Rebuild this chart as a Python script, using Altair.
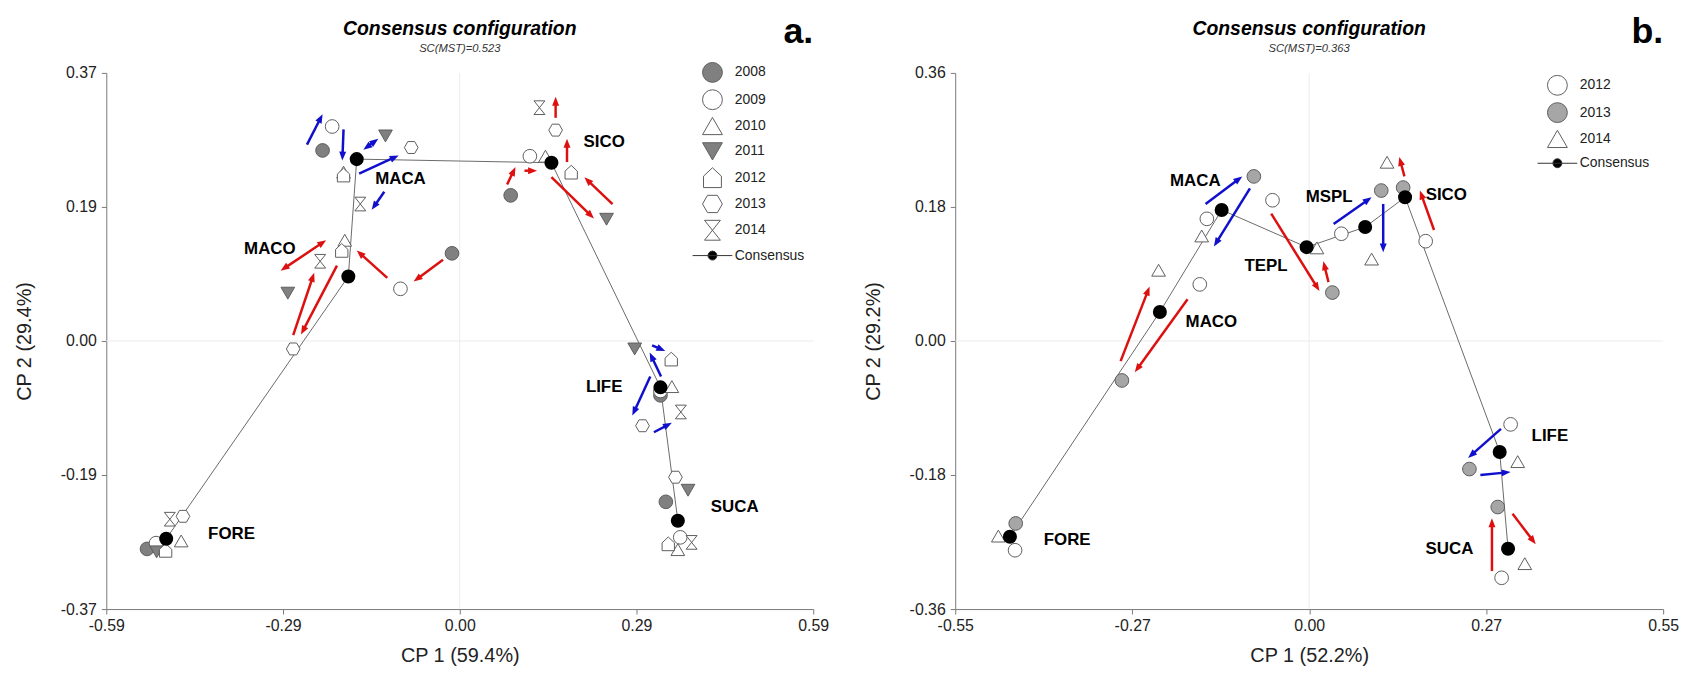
import math
import altair as alt
import pandas as pd

FONT = "Liberation Sans"
RED = "#dd1010"
BLUE = "#1010cc"

# ---------------- Panel a ----------------
A_TITLE = "Consensus configuration"
A_SUBTITLE = "SC(MST)=0.523"
A_TAG = "a."
A_XTITLE = "CP 1 (59.4%)"
A_YTITLE = "CP 2 (29.4%)"
A_XDOMAIN = [-0.59, 0.59]
A_YDOMAIN = [-0.37, 0.37]
A_XTICKS = [-0.59, -0.295, 0.0, 0.295, 0.59]
A_XLABELS = ["-0.59", "-0.29", "0.00", "0.29", "0.59"]
A_YTICKS = [-0.37, -0.185, 0.0, 0.185, 0.37]
A_YLABELS = ["-0.37", "-0.19", "0.00", "0.19", "0.37"]

A_SITES = ["FORE", "MACO", "MACA", "SICO", "LIFE", "SUCA"]
A_CONS_X = [-0.490, -0.186, -0.172, 0.153, 0.335, 0.364]
A_CONS_Y = [-0.273, 0.089, 0.251, 0.246, -0.064, -0.248]
A_LABEL_X = [-0.381, -0.317, -0.099, 0.241, 0.241, 0.459]
A_LABEL_Y = [-0.266, 0.127, 0.223, 0.274, -0.063, -0.229]

A_YEARS = ["2008", "2009", "2010", "2011", "2012", "2013", "2014"]
A_2008_X = [-0.522, -0.013, -0.229, 0.085, 0.335, 0.344]
A_2008_Y = [-0.287, 0.121, 0.263, 0.201, -0.075, -0.222]
A_2009_X = [-0.507, -0.099, -0.213, 0.117, 0.335, 0.368]
A_2009_Y = [-0.279, 0.072, 0.296, 0.255, -0.069, -0.271]
A_2010_X = [-0.465, -0.192, -0.194, 0.143, 0.354, 0.364]
A_2010_Y = [-0.276, 0.139, 0.233, 0.255, -0.063, -0.288]
A_2011_X = [-0.506, -0.287, -0.124, 0.245, 0.292, 0.381]
A_2011_Y = [-0.291, 0.066, 0.283, 0.168, -0.011, -0.206]
A_2012_X = [-0.491, -0.197, -0.194, 0.186, 0.353, 0.348]
A_2012_Y = [-0.289, 0.125, 0.229, 0.233, -0.025, -0.280]
A_2013_X = [-0.462, -0.278, -0.081, 0.160, 0.305, 0.360]
A_2013_Y = [-0.242, -0.011, 0.267, 0.291, -0.117, -0.188]
A_2014_X = [-0.484, -0.233, -0.166, 0.133, 0.369, 0.387]
A_2014_Y = [-0.246, 0.110, 0.189, 0.322, -0.098, -0.278]

A_ARR_X0 = [-0.255, -0.194, -0.161, -0.168, -0.126, -0.299, -0.028, -0.121, -0.278, -0.205,
            0.160, 0.179, 0.079, 0.108, 0.153, 0.255, 0.321, 0.336, 0.318, 0.324]
A_ARR_Y0 = [0.271, 0.292, 0.264, 0.231, 0.206, 0.097, 0.112, 0.087, 0.008, 0.104,
            0.308, 0.247, 0.216, 0.235, 0.226, 0.189, -0.006, -0.049, -0.049, -0.126]
A_ARR_X1 = [-0.229, -0.196, -0.136, -0.102, -0.147, -0.223, -0.077, -0.172, -0.243, -0.265,
            0.160, 0.179, 0.093, 0.129, 0.224, 0.208, 0.343, 0.317, 0.288, 0.354]
A_ARR_Y1 = [0.313, 0.249, 0.279, 0.256, 0.181, 0.139, 0.082, 0.125, 0.094, 0.009,
            0.337, 0.279, 0.240, 0.235, 0.169, 0.226, -0.014, -0.016, -0.103, -0.113]
A_ARR_GROUP = ["b", "b", "b", "b", "b", "r", "r", "r", "r", "r",
               "r", "r", "r", "r", "r", "r", "b", "b", "b", "b"]
A_ARR_BOTH = [0, 0, 1, 0, 0, 1, 0, 0, 0, 0, 0, 0, 0, 0, 0, 0, 0, 0, 0, 0]

# ---------------- Panel b ----------------
B_TITLE = "Consensus configuration"
B_SUBTITLE = "SC(MST)=0.363"
B_TAG = "b."
B_XTITLE = "CP 1 (52.2%)"
B_YTITLE = "CP 2 (29.2%)"
B_XDOMAIN = [-0.55, 0.55]
B_YDOMAIN = [-0.36, 0.36]
B_XTICKS = [-0.55, -0.275, 0.0, 0.275, 0.55]
B_XLABELS = ["-0.55", "-0.27", "0.00", "0.27", "0.55"]
B_YTICKS = [-0.36, -0.18, 0.0, 0.18, 0.36]
B_YLABELS = ["-0.36", "-0.18", "0.00", "0.18", "0.36"]

B_SITES = ["FORE", "MACO", "MACA", "TEPL", "MSPL", "SICO", "LIFE", "SUCA"]
B_CONS_X = [-0.465, -0.232, -0.136, -0.004, 0.087, 0.149, 0.296, 0.309]
B_CONS_Y = [-0.263, 0.039, 0.176, 0.126, 0.153, 0.193, -0.149, -0.279]
B_LABEL_X = [-0.376, -0.152, -0.177, -0.067, 0.031, 0.213, 0.374, 0.218]
B_LABEL_Y = [-0.267, 0.025, 0.215, 0.100, 0.193, 0.196, -0.128, -0.279]

B_YEARS = ["2012", "2013", "2014"]
B_2012_X = [-0.457, -0.170, -0.159, -0.057, 0.050, 0.181, 0.313, 0.299]
B_2012_Y = [-0.281, 0.076, 0.164, 0.189, 0.144, 0.134, -0.112, -0.318]
B_2013_X = [-0.456, -0.291, -0.086, 0.036, 0.112, 0.146, 0.249, 0.293]
B_2013_Y = [-0.245, -0.053, 0.221, 0.065, 0.202, 0.206, -0.172, -0.223]
B_2014_X = [-0.483, -0.234, -0.167, 0.012, 0.097, 0.121, 0.324, 0.335]
B_2014_Y = [-0.262, 0.095, 0.141, 0.125, 0.110, 0.240, -0.162, -0.299]

B_ARR_X0 = [-0.161, -0.092, -0.293, -0.189, -0.059, 0.030, 0.038, 0.115, 0.148, 0.194,
            0.298, 0.266, 0.316, 0.284]
B_ARR_Y0 = [0.184, 0.205, -0.027, 0.056, 0.171, 0.079, 0.157, 0.184, 0.221, 0.149,
            -0.118, -0.180, -0.232, -0.309]
B_ARR_X1 = [-0.104, -0.148, -0.248, -0.271, 0.016, 0.022, 0.097, 0.115, 0.140, 0.172,
            0.247, 0.313, 0.352, 0.284]
B_ARR_Y1 = [0.221, 0.127, 0.073, -0.042, 0.067, 0.107, 0.193, 0.119, 0.247, 0.202,
            -0.157, -0.176, -0.273, -0.238]
B_ARR_GROUP = ["b", "b", "r", "r", "r", "r", "b", "b", "r", "r", "b", "b", "r", "r"]
B_ARR_BOTH = [0] * 14

# ---------------- shapes ----------------
HOUSE = "M-0.9,1L0.9,1L0.9,-0.15L0,-1L-0.9,-0.15Z"
HEXAGON = "M-1,0L-0.5,-0.87L0.5,-0.87L1,0L0.5,0.87L-0.5,0.87Z"
HOURGLASS = "M-0.8,-1L0.8,-1L-0.8,1L0.8,1Z"
CONS_SYMBOL = "M-2,0H2M0.45,0A0.45,0.45,0,1,1,-0.45,0A0.45,0.45,0,1,1,0.45,0Z"
HEAD = "M0,0L-0.7,1.8L0.7,1.8Z"


def label_expr(ticks, labels):
    return ("[" + ",".join("'%s'" % l for l in labels) + "][indexof(["
            + ",".join(repr(float(v)) for v in ticks) + "], datum.value)]")


def build_panel(xdom, ydom, xticks, xlabels, yticks, ylabels, xtitle, ytitle,
                sites, cons_x, cons_y, lab_x, lab_y, years, year_xs, year_ys,
                shape_range, fill_range, stroke_range,
                ax0, ay0, ax1, ay1, agroup, aboth, title, subtitle, tag,
                width, height, legend_x, legend_y):
    sx = width / (xdom[1] - xdom[0])
    sy = height / (ydom[1] - ydom[0])
    xs = alt.Scale(domain=xdom, nice=False, zero=False)
    ys = alt.Scale(domain=ydom, nice=False, zero=False)
    common = dict(domainColor="#7a7a7a", tickColor="#7a7a7a", tickSize=5, grid=False,
                  labelFont=FONT, titleFont=FONT, labelFontSize=16, titleFontSize=20,
                  titleFontWeight="normal", labelColor="#222222", titleColor="#222222",
                  labelFlush=False, labelOverlap=False)
    xaxis = alt.Axis(values=xticks, labelExpr=label_expr(xticks, xlabels), title=xtitle,
                     labelPadding=4, titlePadding=12, **common)
    yaxis = alt.Axis(values=yticks, labelExpr=label_expr(yticks, ylabels), title=ytitle,
                     labelPadding=5, titlePadding=26, **common)
    X = alt.X("x:Q", scale=xs, axis=xaxis)
    Y = alt.Y("y:Q", scale=ys, axis=yaxis)
    col = alt.Color("c:N", scale=alt.Scale(domain=["r", "b"], range=[RED, BLUE]), legend=None)

    zx = alt.Chart(pd.DataFrame({"x": [0.0]})).mark_rule(color="#ececec", strokeWidth=1).encode(x=X)
    zy = alt.Chart(pd.DataFrame({"y": [0.0]})).mark_rule(color="#ececec", strokeWidth=1).encode(y=Y)

    cons = pd.DataFrame({"x": cons_x, "y": cons_y, "s": sites, "i": list(range(len(sites)))})
    line = alt.Chart(cons).mark_line(color="#6a6a6a", strokeWidth=1).encode(
        x=X, y=Y, order=alt.Order("i:Q"))

    rows = []
    for yr, xv, yv in zip(years, year_xs, year_ys):
        for a, b in zip(xv, yv):
            rows.append({"x": a, "y": b, "k": yr})
    pts = pd.DataFrame(rows)
    domain = years + ["Consensus"]
    leg = alt.Legend(orient="none", legendX=legend_x, legendY=legend_y, title=None,
                     symbolSize=400, symbolStrokeWidth=1, labelFont=FONT, labelFontSize=14,
                     labelColor="#222222", rowPadding=2.5, labelOffset=12, padding=0,
                     direction="vertical")
    points = alt.Chart(pts).mark_point(filled=True, size=190, opacity=1, strokeWidth=1).encode(
        x=X, y=Y,
        shape=alt.Shape("k:N", scale=alt.Scale(domain=domain, range=shape_range), legend=leg),
        fill=alt.Fill("k:N", scale=alt.Scale(domain=domain, range=fill_range), legend=leg),
        stroke=alt.Stroke("k:N", scale=alt.Scale(domain=domain, range=stroke_range), legend=leg),
    )
    cpts = alt.Chart(cons).mark_point(filled=True, shape="circle", size=200, color="black",
                                      opacity=1).encode(x=X, y=Y)

    # arrows: shorten the shaft a little under the head, compute head angle in screen space
    segs, heads = [], []
    for x0, y0, x1, y1, g, both in zip(ax0, ay0, ax1, ay1, agroup, aboth):
        dxp, dyp = (x1 - x0) * sx, (y1 - y0) * sy
        L = math.hypot(dxp, dyp)
        ux, uy = dxp / L, dyp / L
        ang = math.degrees(math.atan2(ux, uy)) % 360
        cut = 6.0
        ex, ey = x1 - ux * cut / sx, y1 - uy * cut / sy
        bx, by = x0, y0
        heads.append({"x": x1, "y": y1, "ang": ang, "c": g})
        if both:
            bx, by = x0 + ux * cut / sx, y0 + uy * cut / sy
            heads.append({"x": x0, "y": y0, "ang": (ang + 180) % 360, "c": g})
        segs.append({"x": bx, "y": by, "x2": ex, "y2": ey, "c": g})
    shafts = alt.Chart(pd.DataFrame(segs)).mark_rule(strokeWidth=2.5).encode(
        x=X, y=Y, x2="x2:Q", y2="y2:Q", color=col)
    arrowheads = alt.Chart(pd.DataFrame(heads)).mark_point(
        shape=HEAD, filled=True, size=100, opacity=1, strokeWidth=0).encode(
        x=X, y=Y, angle=alt.Angle("ang:Q", scale=None), color=col)

    labs = pd.DataFrame({"x": lab_x, "y": lab_y, "s": sites})
    labels = alt.Chart(labs).mark_text(font=FONT, fontSize=17, fontWeight="bold", color="black",
                                       align="center", baseline="middle").encode(x=X, y=Y, text="s:N")

    xc = (xdom[0] + xdom[1]) / 2
    ttl = alt.Chart(pd.DataFrame({"x": [xc], "y": [ydom[1]], "t": [title]})).mark_text(
        font=FONT, fontSize=19.5, fontWeight="bold", fontStyle="italic", color="black",
        align="center", baseline="alphabetic", dy=-38).encode(x=X, y=Y, text="t:N")
    sub = alt.Chart(pd.DataFrame({"x": [xc], "y": [ydom[1]], "t": [subtitle]})).mark_text(
        font=FONT, fontSize=11.3, fontStyle="italic", color="#333333",
        align="center", baseline="alphabetic", dy=-21).encode(x=X, y=Y, text="t:N")
    tg = alt.Chart(pd.DataFrame({"x": [xdom[1]], "y": [ydom[1]], "t": [tag]})).mark_text(
        font=FONT, fontSize=36, fontWeight="bold", color="black",
        align="right", baseline="alphabetic", dy=-30).encode(x=X, y=Y, text="t:N")

    return alt.layer(zx, zy, line, points, cpts, shafts, arrowheads, labels, ttl, sub, tg).properties(
        width=width, height=height)


GRAY_A = "#808080"
GRAY_B = "#a6a6a6"
STK = "#5e5e5e"

panel_a = build_panel(
    A_XDOMAIN, A_YDOMAIN, A_XTICKS, A_XLABELS, A_YTICKS, A_YLABELS, A_XTITLE, A_YTITLE,
    A_SITES, A_CONS_X, A_CONS_Y, A_LABEL_X, A_LABEL_Y, A_YEARS,
    [A_2008_X, A_2009_X, A_2010_X, A_2011_X, A_2012_X, A_2013_X, A_2014_X],
    [A_2008_Y, A_2009_Y, A_2010_Y, A_2011_Y, A_2012_Y, A_2013_Y, A_2014_Y],
    ["circle", "circle", "triangle-up", "triangle-down", HOUSE, HEXAGON, HOURGLASS, CONS_SYMBOL],
    [GRAY_A, "white", "white", GRAY_A, "white", "white", "white", "black"],
    [STK, STK, STK, STK, STK, STK, STK, "#333333"],
    A_ARR_X0, A_ARR_Y0, A_ARR_X1, A_ARR_Y1, A_ARR_GROUP, A_ARR_BOTH,
    A_TITLE, A_SUBTITLE, A_TAG, 712, 540, 600, -11)

panel_b = build_panel(
    B_XDOMAIN, B_YDOMAIN, B_XTICKS, B_XLABELS, B_YTICKS, B_YLABELS, B_XTITLE, B_YTITLE,
    B_SITES, B_CONS_X, B_CONS_Y, B_LABEL_X, B_LABEL_Y, B_YEARS,
    [B_2012_X, B_2013_X, B_2014_X],
    [B_2012_Y, B_2013_Y, B_2014_Y],
    ["circle", "circle", "triangle-up", CONS_SYMBOL],
    ["white", GRAY_B, "white", "black"],
    [STK, STK, STK, "#333333"],
    B_ARR_X0, B_ARR_Y0, B_ARR_X1, B_ARR_Y1, B_ARR_GROUP, B_ARR_BOTH,
    B_TITLE, B_SUBTITLE, B_TAG, 713, 540, 596, 2)

chart = alt.hconcat(panel_a, panel_b, spacing=34).resolve_scale(
    x="independent", y="independent", shape="independent", fill="independent",
    stroke="independent").resolve_legend(
    shape="independent", fill="independent", stroke="independent").properties(
    padding={"left": 6, "top": 4, "right": 5, "bottom": 0}, background="white"
).configure_view(stroke=None)

chart.save("out.html", embed_options={"renderer": "svg", "actions": False})
